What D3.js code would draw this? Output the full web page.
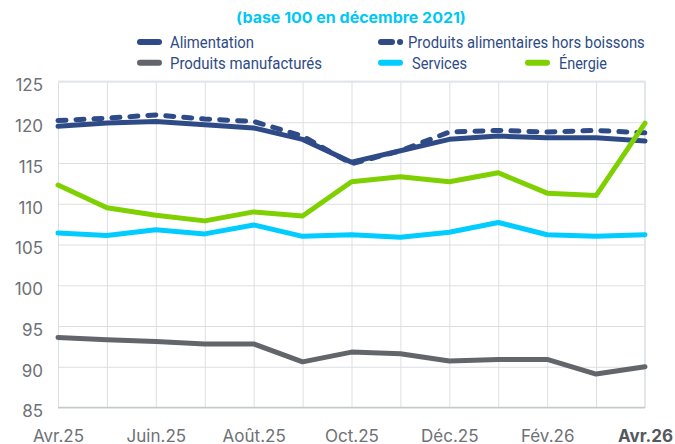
<!DOCTYPE html>
<html>
<head>
<meta charset="utf-8">
<script src="https://cdn.jsdelivr.net/npm/d3@7"></script>
<style>
  html, body { margin: 0; padding: 0; background: #ffffff; }
  svg { display: block; }
</style>
</head>
<body>
<svg id="chart" width="675" height="444"></svg>
<script>
// ---------- DATA ----------
const months = ["Avr.25","Mai.25","Juin.25","Juil.25","Août.25","Sept.25","Oct.25","Nov.25","Déc.25","Janv.26","Fév.26","Mars.26","Avr.26"];
const xTickLabels = ["Avr.25","Juin.25","Août.25","Oct.25","Déc.25","Fév.26","Avr.26"];
const yTicks = [85, 90, 95, 100, 105, 110, 115, 120, 125];

const alimentation   = [119.5,119.9,120.1,119.7,119.3,117.9,115.1,116.5,117.9,118.3,118.1,118.1,117.7];
const horsBoissons   = [120.2,120.5,120.9,120.4,120.1,118.3,114.9,116.5,118.8,119.0,118.8,119.0,118.7];
const manufactures   = [93.6,93.3,93.1,92.8,92.8,90.6,91.8,91.6,90.7,90.9,90.9,89.1,90.0];
const services       = [106.4,106.1,106.8,106.3,107.4,106.0,106.2,105.9,106.5,107.7,106.2,106.0,106.2];
const energie        = [112.3,109.5,108.6,107.9,109.0,108.5,112.7,113.3,112.7,113.8,111.3,111.0,119.9];

const seriesNames = ["Alimentation","Produits alimentaires hors boissons","Produits manufacturés","Services","Énergie"];
const subtitle = "(base 100 en décembre 2021)";

// ---------- STYLE ----------
const NAVY = "#2e4b87", GRAY = "#62666b", CYAN = "#00ccff", GREEN = "#7fd000";
const series = [
  { name: seriesNames[0], values: alimentation, color: NAVY,  dash: null },
  { name: seriesNames[1], values: horsBoissons, color: NAVY,  dash: "8,10" },
  { name: seriesNames[2], values: manufactures, color: GRAY,  dash: null },
  { name: seriesNames[3], values: services,     color: CYAN,  dash: null },
  { name: seriesNames[4], values: energie,      color: GREEN, dash: null }
];

const svg = d3.select("#chart");
const pLeft = 58, pRight = 645, pTop = 81.5, pBottom = 407.5;

const x = d3.scalePoint().domain(months).range([pLeft, pRight]);
const y = d3.scaleLinear().domain([85, 125]).range([pBottom, pTop]);

// ---------- GRID ----------
const grid = svg.append("g");
grid.append("g")
  .attr("transform", `translate(0,${pTop})`)
  .call(d3.axisBottom(x).tickSize(pBottom - pTop).tickFormat(""))
  .call(g => g.select(".domain").remove())
  .call(g => g.selectAll("line").attr("stroke", "#dcdfe2").attr("stroke-width", 1));

grid.append("g")
  .attr("transform", `translate(${pLeft},0)`)
  .call(d3.axisRight(y).tickValues(yTicks).tickSize(pRight - pLeft).tickFormat(""))
  .call(g => g.select(".domain").remove())
  .call(g => g.selectAll("line").attr("stroke", "#dcdfe2").attr("stroke-width", 1));

// frame (top + right lighter, bottom axis)
svg.append("line").attr("x1", pLeft).attr("x2", pRight).attr("y1", y(125)).attr("y2", y(125))
  .attr("stroke", "#e4e7ea").attr("stroke-width", 2);
svg.append("line").attr("x1", pRight).attr("x2", pRight).attr("y1", pTop).attr("y2", pBottom)
  .attr("stroke", "#e4e7ea").attr("stroke-width", 2);
svg.append("line").attr("x1", pLeft).attr("x2", pRight).attr("y1", y(85)).attr("y2", y(85))
  .attr("stroke", "#c6c9cc").attr("stroke-width", 1.5);

// ---------- AXES ----------
const yAxis = svg.append("g")
  .attr("transform", `translate(43,0)`)
  .call(d3.axisLeft(y).tickValues(yTicks).tickSize(0).tickPadding(0).tickFormat(d3.format("d")))
  .call(g => g.select(".domain").remove());
yAxis.selectAll("text")
  .attr("font-family", "Inter, Roboto, sans-serif")
  .attr("font-size", 17)
  .attr("fill", "#6e7176")
  .attr("dy", "0.55em");

const xAxis = svg.append("g")
  .attr("transform", `translate(0,${pBottom})`)
  .call(d3.axisBottom(x).tickValues(xTickLabels).tickSize(0).tickPadding(0))
  .call(g => g.select(".domain").remove());
xAxis.selectAll("text")
  .attr("font-family", "Inter, Roboto, sans-serif")
  .attr("font-size", 17)
  .attr("fill", "#6e7176")
  .attr("y", 34)
  .attr("dy", null)
  .filter(d => d === months[months.length - 1])
  .attr("font-weight", "bold")
  .attr("fill", "#55585d");

// ---------- LINES ----------
const line = d3.line().x((d, i) => x(months[i])).y(d => y(d));
svg.append("g").selectAll("path")
  .data(series)
  .join("path")
  .attr("d", s => line(s.values))
  .attr("fill", "none")
  .attr("stroke", s => s.color)
  .attr("stroke-width", 5)
  .attr("stroke-linejoin", "round")
  .attr("stroke-linecap", "round")
  .attr("stroke-dasharray", s => s.dash);

// ---------- TITLE ----------
function fitText(sel, target) {
  const w = sel.node().getComputedTextLength();
  return w > 0 ? target / w : 1;
}
const sub = svg.append("text")
  .attr("x", 0).attr("y", 0)
  .attr("text-anchor", "middle")
  .attr("font-family", "Inter, Roboto, sans-serif")
  .attr("font-weight", "bold")
  .attr("font-size", 15)
  .attr("fill", "#00c8f5")
  .text(subtitle);
sub.attr("transform", `translate(351,22.7) scale(${fitText(sub, 230)},1)`);

// ---------- LEGEND ----------
const legendItems = [
  { s: series[0], sx: 137, ty: 48.3, tx: 170, tw: 84 },
  { s: series[1], sx: 378, ty: 48.3, tx: 408, tw: 237 },
  { s: series[2], sx: 137, ty: 69,   tx: 170, tw: 152 },
  { s: series[3], sx: 378, ty: 69,   tx: 412, tw: 55 },
  { s: series[4], sx: 525, ty: 69,   tx: 559, tw: 48 }
];
const leg = svg.append("g");
legendItems.forEach(it => {
  const cy = it.ty - 6.3;
  if (it.s.dash) {
    leg.append("line").attr("x1", it.sx + 3).attr("x2", it.sx + 14).attr("y1", cy).attr("y2", cy)
      .attr("stroke", it.s.color).attr("stroke-width", 6).attr("stroke-linecap", "round");
    leg.append("line").attr("x1", it.sx + 22).attr("x2", it.sx + 22.1).attr("y1", cy).attr("y2", cy)
      .attr("stroke", it.s.color).attr("stroke-width", 6).attr("stroke-linecap", "round");
  } else {
    leg.append("line").attr("x1", it.sx + 3).attr("x2", it.sx + 22).attr("y1", cy).attr("y2", cy)
      .attr("stroke", it.s.color).attr("stroke-width", 6).attr("stroke-linecap", "round");
  }
  const t = leg.append("text")
    .attr("x", 0).attr("y", 0)
    .attr("font-family", "Roboto, sans-serif")
    .attr("font-size", 17)
    .attr("fill", NAVY)
    .text(it.s.name);
  t.attr("transform", `translate(${it.tx},${it.ty}) scale(${fitText(t, it.tw)},1)`);
});
</script>
</body>
</html>
